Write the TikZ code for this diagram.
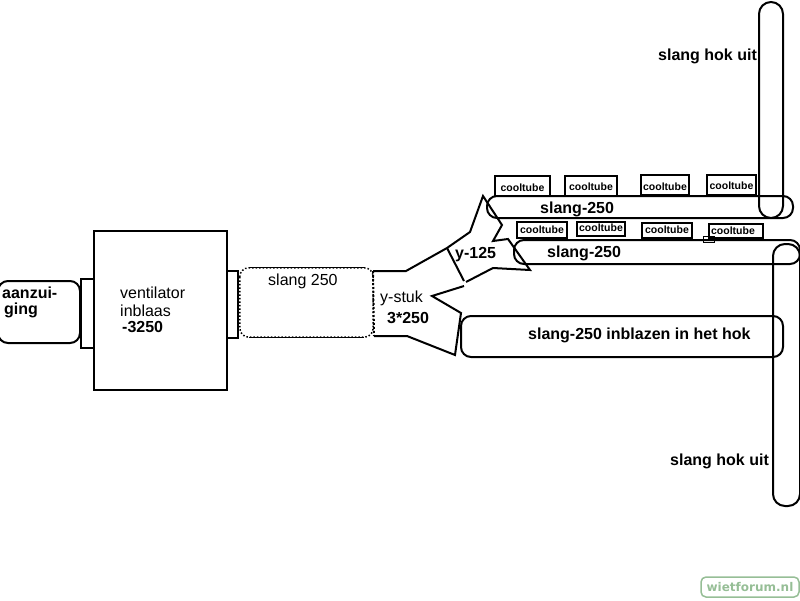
\documentclass[tikz,border=0pt]{standalone}
\usepackage{fontspec}
\setmainfont{Liberation Sans}
\newfontfamily\markfont{DejaVu Sans}
\definecolor{markgreen}{RGB}{150,190,150}
\tikzset{
	box/.style={draw,line width=2pt,inner sep=0pt},
	hose/.style={draw,line width=2pt,rounded corners=10pt,inner sep=0pt},
	tube/.style={box,minimum height=18pt,font=\bfseries\fontsize{10.5}{11}\selectfont},
	label/.style={inner sep=0pt,anchor=base west,font=\fontsize{16}{17}\selectfont},
	boldlabel/.style={label,font=\bfseries\fontsize{16}{17}\selectfont},
	piece/.style={line width=2pt,line join=miter}
}
\begin{document}
\begin{tikzpicture}[x=1pt,y=-1pt]
	\useasboundingbox (0,0) rectangle (800,600);

	% fan with intake and outlet
	\node[hose,minimum width=82pt,minimum height=62pt] (intake) at (39,312) {};
	\node[box,minimum width=13pt,minimum height=69pt] (collar) at (87.5,313.5) {};
	\node[box,minimum width=133pt,minimum height=159pt] (fan) at (160.5,310.5) {};
	\node[box,minimum width=11pt,minimum height=67pt] (outlet) at (232.5,304.5) {};
	\node[boldlabel] (intaketext) at (2,298) {aanzui-};
	\node[boldlabel] (intaketext2) at (4,314) {ging};
	\node[label] (fantext) at (120,298) {ventilator};
	\node[label] (fantext2) at (120,316) {inblaas};
	\node[boldlabel] (fantext3) at (122,332) {-3250};

	% hose between fan and y piece
	\node[minimum width=133pt,minimum height=69pt,inner sep=0pt] (slang) at (306.5,302.5) {};
	\draw[dotted,line width=1.5pt,rounded corners=9pt] (slang.north west) rectangle (slang.south east);
	\draw[line width=1.2pt] ([xshift=9pt]slang.north west) -- ([xshift=-9pt]slang.north east);
	\draw[line width=1.2pt] ([xshift=9pt]slang.south west) -- ([xshift=-9pt]slang.south east);
	\node[label] (slangtext) at (268,285) {slang 250};

	% y piece
	\coordinate (ytop) at (373,271);
	\coordinate (ybot) at (374,336);
	\coordinate (ysplit) at (447,248);
	\coordinate (ysplit2) at (464,281);
	\draw[dotted,line width=2pt] (ytop) -- (ybot);
	\draw[piece] (ytop) -- (406,271) -- (ysplit) -- (470,232) -- (483,196) -- (502,225) -- (493,241) -- (508,239) -- (530,270) -- (493,268) -- (466,282);
	\draw[piece] (464,286) -- (432,296) -- (461,313) -- (455,355) -- (407,336) -- (ybot);
	\draw[piece] (ysplit) -- (ysplit2);
	\node[label] (ytext) at (380,302) {y-stuk};
	\node[boldlabel] (ytext2) at (387,323) {3*250};
	\node[boldlabel] (ytext3) at (455,258) {y-125};

	% long hoses
	\node[hose,minimum width=306pt,minimum height=22pt] (upper) at (640,207) {};
	\node[hose,minimum width=286pt,minimum height=24pt] (lower) at (657,252) {};
	\node[hose,minimum width=322pt,minimum height=41pt] (blow) at (622,336.5) {};
	\node[hose,rounded corners=12pt,minimum width=24pt,minimum height=216pt] (out1) at (771,110) {};
	\node[hose,rounded corners=12pt,minimum width=27pt,minimum height=262pt] (out2) at (786.5,375) {};
	\node[boldlabel] (uppertext) at (540,213) {slang-250};
	\node[boldlabel] (lowertext) at (547,257) {slang-250};
	\node[boldlabel] (blowtext) at (528,339) {slang-250 inblazen in het hok};
	\node[boldlabel] (out1text) at (658,60) {slang hok uit};
	\node[boldlabel] (out2text) at (670,465) {slang hok uit};

	% cooltubes, upper row
	\node[tube,minimum width=55pt,minimum height=20pt,text height=11.6pt] (cool1) at (522.5,186) {cooltube};
	\node[tube,minimum width=52pt,minimum height=20pt,text height=9.6pt] (cool2) at (591,186) {cooltube};
	\node[tube,minimum width=48pt,minimum height=20pt,text height=11.6pt] (cool3) at (665,185) {cooltube};
	\node[tube,minimum width=49pt,minimum height=20pt,text height=9.6pt] (cool4) at (731.5,185) {cooltube};
	% cooltubes, lower row
	\node[tube,minimum width=50pt,minimum height=16pt] (cool5) at (542,230) {cooltube};
	\node[tube,minimum width=48pt,minimum height=14pt,text depth=2pt] (cool6) at (601,229) {cooltube};
	\node[tube,minimum width=50pt,minimum height=15pt,text depth=2pt] (cool7) at (667,230.5) {cooltube};
	\node[tube,minimum width=54pt,minimum height=14pt] (cool8) at (736,231) {\hspace{-6pt}cooltube};
	\node[box,line width=1pt,minimum width=11pt,minimum height=6pt] (clip) at (708.5,239.5) {};

	% site mark
	\node[draw=markgreen,line width=1.5pt,rounded corners=5pt,minimum width=98pt,minimum height=20pt,inner sep=0pt,text=markgreen,font=\markfont\bfseries\fontsize{12}{13}\selectfont] (mark) at (750,587) {wietforum.nl};
\end{tikzpicture}
\end{document}
